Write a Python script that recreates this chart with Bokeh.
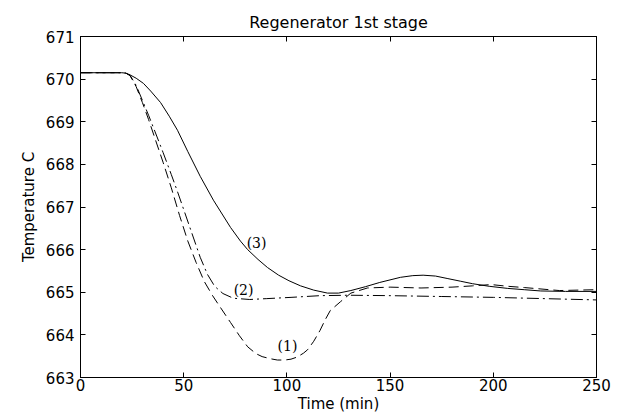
from bokeh.plotting import figure
from bokeh.models import LinearAxis, FixedTicker, Range1d, ColumnDataSource
from bokeh.core.properties import value
from bokeh.embed import file_html
from bokeh.resources import INLINE

# ---- data ----
t1 = [0, 20, 22, 24, 27, 30, 33, 36, 40, 44, 48, 52, 56, 60, 64, 67, 72.7, 77, 81, 85, 88, 92,
      95.4, 99, 102, 105, 108, 110, 113, 116, 118.5, 121, 126, 131, 139, 150, 165, 180, 190,
      199, 207, 215, 232, 250]
temp1 = [670.15, 670.15, 670.14, 670.08, 669.82, 669.45, 669.05, 668.62, 668.05, 667.45, 666.8,
         666.2, 665.7, 665.25, 664.92, 664.70, 664.29, 663.98, 663.72, 663.56, 663.49, 663.44,
         663.41, 663.41, 663.43, 663.48, 663.57, 663.65, 663.85, 664.10, 664.35, 664.57, 664.78,
         664.98, 665.10, 665.12, 665.10, 665.12, 665.15, 665.18, 665.14, 665.11, 665.04, 665.06]

t2 = [0, 20, 22, 24, 27, 30, 33, 36, 40, 44, 47, 50, 53, 56, 58, 61.5, 65, 69, 74, 82, 90, 102,
      116, 130, 150, 175, 200, 225, 250]
temp2 = [670.15, 670.15, 670.14, 670.09, 669.85, 669.5, 669.15, 668.78, 668.28, 667.76, 667.36,
         666.94, 666.52, 666.1, 665.82, 665.42, 665.14, 664.97, 664.86, 664.83, 664.85, 664.88,
         664.92, 664.93, 664.92, 664.90, 664.88, 664.85, 664.82]

t3 = [0, 20, 22, 24, 27, 30.5, 34, 38.8, 43, 47, 52, 58, 64.4, 72.7, 77.5, 81, 86, 90.6, 96,
      101, 106.6, 113, 119.7, 125, 131, 138, 145, 155, 161, 166, 172, 178, 184, 190, 198, 207,
      215, 223, 235, 250]
temp3 = [670.15, 670.15, 670.14, 670.10, 670.02, 669.90, 669.72, 669.45, 669.13, 668.80, 668.30,
         667.72, 667.16, 666.52, 666.20, 666.00, 665.77, 665.58, 665.40, 665.27, 665.15, 665.05,
         664.98, 664.98, 665.04, 665.13, 665.23, 665.35, 665.39, 665.40, 665.38, 665.32, 665.26,
         665.20, 665.14, 665.09, 665.06, 665.03, 665.02, 665.02]

curve_labels = ["(1)", "(2)", "(3)"]
label_t = [100.3, 79.0, 85.3]
label_temp = [663.75, 665.05, 666.16]

x_ticks = [0, 50, 100, 150, 200, 250]
y_ticks = [663, 664, 665, 666, 667, 668, 669, 670, 671]

FONT = "DejaVu Sans"

p = figure(width=623, height=415, output_backend="svg", toolbar_location=None,
           x_range=Range1d(0, 250), y_range=Range1d(663, 671),
           min_border_left=80, min_border_right=27, min_border_top=36, min_border_bottom=38,
           background_fill_color="white", border_fill_color="white",
           x_axis_label="Time (min)", y_axis_label="Temperature C")
p.grid.visible = False
p.outline_line_color = "black"
p.outline_line_width = 1

p.title.text = "Regenerator 1st stage"
p.title.align = "center"
p.title.text_font = FONT
p.title.text_font_size = "16px"
p.title.text_font_style = "normal"
p.title.text_color = "black"


def style_axis(ax, ticks, show_labels=True):
    ax.ticker = FixedTicker(ticks=ticks)
    ax.major_tick_in = 5
    ax.major_tick_out = 0
    ax.minor_tick_in = 0
    ax.minor_tick_out = 0
    ax.axis_line_color = "black"
    ax.major_tick_line_color = "black"
    ax.major_label_text_font = FONT
    ax.major_label_text_color = "black"
    ax.axis_label_text_font = FONT
    ax.axis_label_text_font_size = "15px"
    ax.axis_label_text_font_style = "normal"
    ax.axis_label_text_color = "black"
    ax.major_label_text_font_size = "15px"
    if show_labels:
        ax.major_label_standoff = 5
    else:
        ax.major_label_overrides = {t: "" for t in ticks}
        ax.major_label_standoff = 0


for ax in p.xaxis:
    style_axis(ax, x_ticks)
    ax.major_label_standoff = 1
    ax.axis_label_standoff = 1
for ax in p.yaxis:
    style_axis(ax, y_ticks)
    ax.major_label_standoff = 6
    ax.axis_label_standoff = 5

top = LinearAxis()
style_axis(top, x_ticks, show_labels=False)
p.add_layout(top, "above")
right = LinearAxis()
style_axis(right, y_ticks, show_labels=False)
p.add_layout(right, "right")

s1 = ColumnDataSource(dict(t=t1, v=temp1))
s2 = ColumnDataSource(dict(t=t2, v=temp2))
s3 = ColumnDataSource(dict(t=t3, v=temp3))
p.line("t", "v", source=s1, line_color="black", line_width=1, line_dash="10 5")
p.line("t", "v", source=s2, line_color="black", line_width=1, line_dash="12 4 2 4")
p.line("t", "v", source=s3, line_color="black", line_width=1)

ls = ColumnDataSource(dict(t=label_t, v=label_temp, txt=curve_labels))
p.text("t", "v", text="txt", source=ls, text_font=value("DejaVu Serif"),
       text_font_size="14px", text_align="center", text_baseline="middle", text_color="black")

open("out.html", "w").write(file_html(p, INLINE))
